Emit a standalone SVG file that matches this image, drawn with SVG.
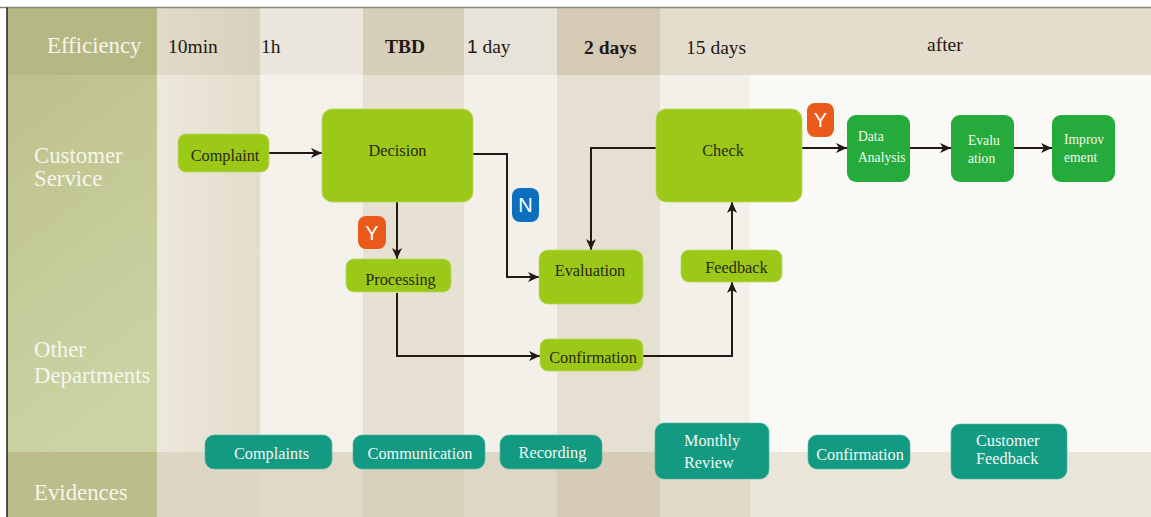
<svg xmlns="http://www.w3.org/2000/svg" width="1151" height="517" viewBox="0 0 1151 517">
<style>
.t{font-family:"Liberation Serif","Times New Roman",serif;}
.hv{font-family:"Liberation Serif","Times New Roman",serif;font-size:19.5px;fill:#231815;}
.lane{font-family:"Liberation Serif","Times New Roman",serif;font-size:22.8px;fill:#f6f6ec;}
.ln{fill:#9cc817;stroke:#b9d866;stroke-width:0.8;}
.lt{font-family:"Liberation Serif","Times New Roman",serif;font-size:16.3px;fill:#2a2912;text-anchor:middle;}
.dn{fill:#25ab3b;}
.dt{font-family:"Liberation Serif","Times New Roman",serif;font-size:13.6px;fill:#f4f8ee;}
.en{fill:#139a82;stroke:#4fb5a2;stroke-width:0.6;}
.et{font-family:"Liberation Serif","Times New Roman",serif;font-size:16.3px;fill:#f2f7f4;}
.bt{font-family:"Liberation Sans",Arial,sans-serif;font-size:20px;fill:#ffffff;text-anchor:middle;}
.c{fill:none;stroke:#231815;stroke-width:2;}
</style>
<defs>
<marker id="ah" markerUnits="userSpaceOnUse" markerWidth="12" markerHeight="10" refX="11" refY="5" orient="auto">
<path d="M0,0 L11,5 L0,10 L3,5 z" fill="#231815"/>
</marker>
<linearGradient id="leftg" x1="0" y1="0" x2="0.3" y2="1">
<stop offset="0" stop-color="#bdc18b"/>
<stop offset="1" stop-color="#cbd3a4"/>
</linearGradient>
<linearGradient id="c1" x1="0" y1="0" x2="1" y2="0">
<stop offset="0" stop-color="#ede8dc"/>
<stop offset="1" stop-color="#e4ddcd"/>
</linearGradient>
<linearGradient id="c1h" x1="0" y1="0" x2="1" y2="0">
<stop offset="0" stop-color="#e1dac9"/>
<stop offset="1" stop-color="#d9d1bd"/>
</linearGradient>
</defs>
<rect x="0" y="0" width="1151" height="517" fill="#ffffff"/>
<g id="background">
<rect x="157" y="75" width="103" height="377" fill="url(#c1)"/>
<rect x="260" y="75" width="103" height="377" fill="#f4f1ea"/>
<rect x="363" y="75" width="101" height="377" fill="#e7e1d3"/>
<rect x="464" y="75" width="93" height="377" fill="#f3f0e9"/>
<rect x="557" y="75" width="103" height="377" fill="#e6e0d2"/>
<rect x="660" y="75" width="90" height="377" fill="#f3f0ea"/>
<rect x="750" y="75" width="401" height="377" fill="#faf9f5"/>
<rect x="157" y="8" width="103" height="67" fill="url(#c1h)"/>
<rect x="260" y="8" width="103" height="67" fill="#ebe7de"/>
<rect x="363" y="8" width="101" height="67" fill="#d8cfba"/>
<rect x="464" y="8" width="93" height="67" fill="#e8e3d8"/>
<rect x="557" y="8" width="103" height="67" fill="#d5cab3"/>
<rect x="660" y="8" width="491" height="67" fill="#e4ddcd"/>
<rect x="157" y="452" width="103" height="65" fill="#ddd6c4"/>
<rect x="260" y="452" width="103" height="65" fill="#e0d9c8"/>
<rect x="363" y="452" width="101" height="65" fill="#d9d0bc"/>
<rect x="464" y="452" width="93" height="65" fill="#ded7c6"/>
<rect x="557" y="452" width="103" height="65" fill="#d6ccb6"/>
<rect x="660" y="452" width="90" height="65" fill="#e0d9c9"/>
<rect x="750" y="452" width="401" height="65" fill="#e9e5d9"/>
<rect x="7" y="8" width="150" height="67" fill="#b5b883"/>
<rect x="7" y="75" width="150" height="377" fill="url(#leftg)"/>
<rect x="7" y="452" width="150" height="65" fill="#bbbd8b"/>
<line x1="0" y1="7.5" x2="1151" y2="7.5" stroke="#8c847a" stroke-width="1.5"/>
<line x1="7" y1="7.5" x2="7" y2="517" stroke="#1a1410" stroke-width="1.4"/>
</g>
<g id="header">
<text class="lane" x="47" y="53">Efficiency</text>
<text class="hv" x="168" y="53">10min</text>
<text class="hv" x="261" y="53">1h</text>
<text class="hv" x="385" y="53" font-weight="bold">TBD</text>
<text class="hv" x="467" y="53"><tspan font-family="Liberation Sans, Arial, sans-serif" font-size="19px">1</tspan> day</text>
<text class="hv" x="584" y="54" font-weight="bold">2 days</text>
<text class="hv" x="686" y="54">15 days</text>
<text class="hv" x="927" y="51">after</text>
</g>
<g id="lanes">
<text class="lane" x="34" y="163">Customer</text>
<text class="lane" x="34" y="186">Service</text>
<text class="lane" x="34" y="357">Other</text>
<text class="lane" x="34" y="383">Departments</text>
<text class="lane" x="34" y="500">Evidences</text>
</g>
<g id="connectors">
<path class="c" d="M269,153 H322" marker-end="url(#ah)"/>
<path class="c" d="M397,202 V259" marker-end="url(#ah)"/>
<path class="c" d="M473,154 H507 V277 H539" marker-end="url(#ah)"/>
<path class="c" d="M656,148 H591 V250" marker-end="url(#ah)"/>
<path class="c" d="M397,293 V356 H540" marker-end="url(#ah)"/>
<path class="c" d="M643,356 H732 V282" marker-end="url(#ah)"/>
<path class="c" d="M732,250 V202" marker-end="url(#ah)"/>
<path class="c" d="M802,148 H847" marker-end="url(#ah)"/>
<path class="c" d="M910,148 H951" marker-end="url(#ah)"/>
<path class="c" d="M1014,148 H1052" marker-end="url(#ah)"/>
</g>
<g id="complaint"><rect class="ln" x="178" y="134" width="91" height="38" rx="8"/><text class="lt" x="225" y="161">Complaint</text></g>
<g id="decision"><rect class="ln" x="322" y="109" width="151" height="93" rx="10"/><text class="lt" x="397.5" y="156">Decision</text></g>
<g id="processing"><rect class="ln" x="346" y="259" width="105" height="33" rx="8"/><text class="lt" x="400.5" y="285">Processing</text></g>
<g id="evaluation"><rect class="ln" x="539" y="250" width="104" height="54" rx="9"/><text class="lt" x="590" y="276" font-size="13.8px">Evaluation</text></g>
<g id="confirmation"><rect class="ln" x="540" y="339" width="103" height="32" rx="8"/><text class="lt" x="593" y="363">Confirmation</text></g>
<g id="check"><rect class="ln" x="656" y="109" width="146" height="93" rx="10"/><text class="lt" x="723" y="156">Check</text></g>
<g id="feedback"><rect class="ln" x="681" y="250" width="101" height="32" rx="8"/><text class="lt" x="736.5" y="273">Feedback</text></g>
<g id="data-analysis"><rect class="dn" x="847" y="115" width="63" height="67" rx="9"/><text class="dt" x="858" y="141">Data</text><text class="dt" x="858" y="162">Analysis</text></g>
<g id="evaluation2"><rect class="dn" x="951" y="115" width="63" height="67" rx="9"/><text class="dt" x="968" y="145">Evalu</text><text class="dt" x="968" y="163">ation</text></g>
<g id="improvement"><rect class="dn" x="1052" y="115" width="63" height="67" rx="9"/><text class="dt" x="1064" y="144">Improv</text><text class="dt" x="1064" y="162">ement</text></g>
<g id="badge-y1"><rect x="358" y="216" width="28" height="33" rx="8" fill="#e95a1b"/><text class="bt" x="372" y="240">Y</text></g>
<g id="badge-n"><rect x="512" y="188" width="27" height="34" rx="8" fill="#0b6fbd"/><text class="bt" x="525.5" y="212">N</text></g>
<g id="badge-y2"><rect x="807" y="103" width="27" height="34" rx="8" fill="#e95a1b"/><text class="bt" x="820.5" y="127">Y</text></g>
<g id="ev-complaints"><rect class="en" x="205" y="435" width="127" height="34" rx="9"/><text class="et" x="271.5" y="459" text-anchor="middle">Complaints</text></g>
<g id="ev-communication"><rect class="en" x="353" y="435" width="132" height="34" rx="9"/><text class="et" x="420" y="459" text-anchor="middle">Communication</text></g>
<g id="ev-recording"><rect class="en" x="500" y="435" width="102" height="34" rx="9"/><text class="et" x="552.5" y="458" text-anchor="middle">Recording</text></g>
<g id="ev-monthly-review"><rect class="en" x="655" y="423" width="114" height="56" rx="9"/><text class="et" x="684" y="446">Monthly</text><text class="et" x="684" y="468">Review</text></g>
<g id="ev-confirmation"><rect class="en" x="808" y="435" width="102" height="34" rx="9"/><text class="et" x="860" y="460" text-anchor="middle">Confirmation</text></g>
<g id="ev-customer-feedback"><rect class="en" x="951" y="424" width="116" height="55" rx="9"/><text class="et" x="976" y="446">Customer</text><text class="et" x="976" y="464">Feedback</text></g>
</svg>
